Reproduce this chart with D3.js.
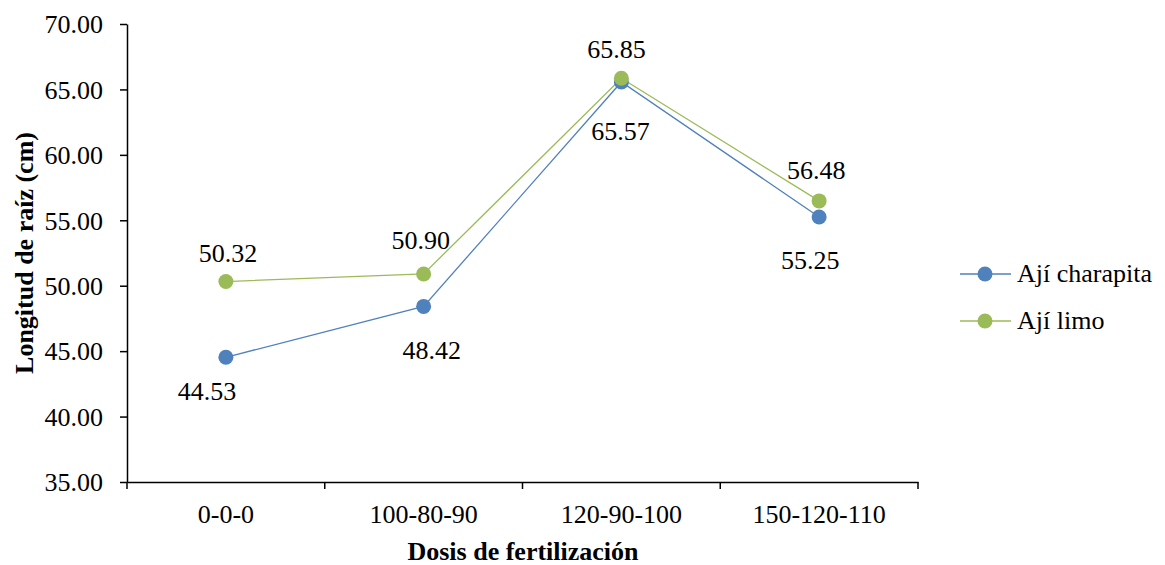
<!DOCTYPE html>
<html><head><meta charset="utf-8">
<script src="https://cdn.jsdelivr.net/npm/d3@7"></script>
<style>body{margin:0;background:#fff}svg{display:block}</style>
</head><body>
<script>
const categories = ["0-0-0","100-80-90","120-90-100","150-120-110"];
const charapita = [44.53, 48.42, 65.57, 55.25];
const limo = [50.32, 50.90, 65.85, 56.48];
const yTicks = [35,40,45,50,55,60,65,70];
const seriesNames = ["Ají charapita","Ají limo"];
const colors = ["#4F81BD","#9BBB59"];
const charapitaLabelDx = [-19, 8, -1, -9];
const charapitaLabelDy = [43, 53, 58, 52];
const limoLabelDx = [2, -3, -5, -3];
const limoLabelDy = [-20, -25, -20, -22];

const FAM='"Liberation Serif","Times New Roman",serif';
const fs=26;

const W=1165,H=565;
const svg=d3.select("body").append("svg").attr("width",W).attr("height",H);
const x=d3.scaleBand().domain(categories).range([127,918]);
const y=d3.scaleLinear().domain([35,70]).range([482,24]);
const txt=(sel,w)=>sel.attr("font-family",FAM).style("font-family",FAM).attr("font-size",fs)
  .attr("font-weight",w||"normal").attr("fill","#000");

const ya=svg.append("g").attr("transform","translate(127,0)")
  .call(d3.axisLeft(y).tickValues(yTicks).tickFormat(d3.format(".2f")).tickSize(7).tickSizeOuter(0));
ya.attr("font-family",null).attr("font-size",null);
ya.select(".domain").attr("stroke","#000").attr("stroke-width",1.5);
ya.selectAll(".tick line").attr("stroke","#000").attr("stroke-width",1.5);
txt(ya.selectAll(".tick text").attr("x",-24).attr("dy","0.34em"));

const xa=svg.append("g").attr("transform","translate(0,482)")
  .call(d3.axisBottom(x).tickSize(0).tickSizeOuter(0));
xa.attr("font-family",null).attr("font-size",null);
xa.select(".domain").attr("stroke","#000").attr("stroke-width",1.5);
txt(xa.selectAll(".tick text").attr("y",23).attr("dy","0.71em"));
const bounds=categories.map(c=>x(c)).concat([x.range()[1]]);
xa.selectAll(".btick").data(bounds).enter().append("line")
  .attr("x1",d=>d).attr("x2",d=>d).attr("y1",0).attr("y2",7).attr("stroke","#000").attr("stroke-width",1.5);

const cx=c=>x(c)+x.bandwidth()/2;
const line=d3.line().x((d,i)=>cx(categories[i])).y(d=>y(d));
[charapita,limo].forEach((s,k)=>{
  svg.append("path").datum(s).attr("d",line).attr("fill","none").attr("stroke",colors[k]).attr("stroke-width",1.3);
});
[charapita,limo].forEach((s,k)=>{
  svg.selectAll(".m"+k).data(s).enter().append("circle")
    .attr("cx",(d,i)=>cx(categories[i])).attr("cy",d=>y(d)).attr("r",7.5).attr("fill",colors[k]);
});
txt(svg.selectAll(".lc").data(charapita).enter().append("text").attr("text-anchor","middle")
  .attr("x",(d,i)=>cx(categories[i])+charapitaLabelDx[i]).attr("y",(d,i)=>y(d)+charapitaLabelDy[i])
  .text(d=>d.toFixed(2)));
txt(svg.selectAll(".ll").data(limo).enter().append("text").attr("text-anchor","middle")
  .attr("x",(d,i)=>cx(categories[i])+limoLabelDx[i]).attr("y",(d,i)=>y(d)+limoLabelDy[i])
  .text(d=>d.toFixed(2)));

txt(svg.append("text").attr("transform","translate(33,253) rotate(-90)").attr("text-anchor","middle")
  .text("Longitud de raíz (cm)"),"bold");
txt(svg.append("text").attr("x",523).attr("y",560).attr("text-anchor","middle")
  .text("Dosis de fertilización"),"bold");

seriesNames.forEach((n,k)=>{
  const ly=274+k*47;
  const g=svg.append("g");
  g.append("line").attr("x1",960).attr("x2",1011).attr("y1",ly).attr("y2",ly).attr("stroke",colors[k]).attr("stroke-width",1.3);
  g.append("circle").attr("cx",985).attr("cy",ly).attr("r",7.5).attr("fill",colors[k]);
  txt(g.append("text").attr("x",1017).attr("y",ly+8).text(n));
});
</script>
</body></html>
